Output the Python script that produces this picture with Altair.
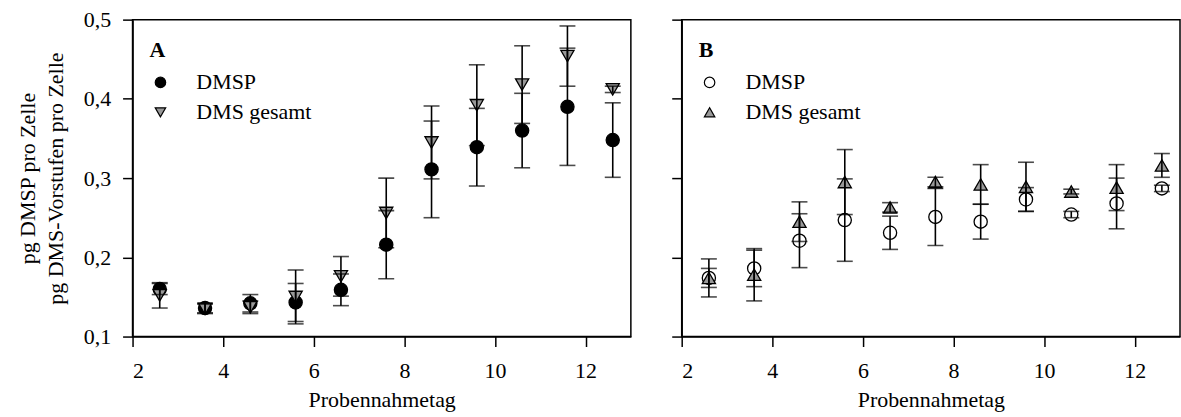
import altair as alt
import pandas as pd

# Sampling days
days = [2.6, 3.6, 4.6, 5.6, 6.6, 7.6, 8.6, 9.6, 10.6, 11.6, 12.6]

# Panel A
a_dmsp = [0.160, 0.136, 0.142, 0.143, 0.159, 0.216, 0.311, 0.339, 0.360, 0.390, 0.348]
a_dmsp_err = [0.007, 0.006, 0.011, 0.024, 0.020, 0.043, 0.061, 0.049, 0.047, 0.074, 0.047]
a_dms = [0.152, 0.135, 0.137, 0.150, 0.176, 0.256, 0.345, 0.392, 0.418, 0.454, 0.412]
a_dms_err = [0.016, 0.006, 0.008, 0.034, 0.025, 0.044, 0.046, 0.051, 0.049, 0.038, 0.004]

# Panel B
b_dmsp = [0.174, 0.186, 0.221, 0.247, 0.231, 0.251, 0.245, 0.273, 0.254, 0.268, 0.287]
b_dmsp_err = [0.012, 0.023, 0.034, 0.052, 0.021, 0.036, 0.022, 0.015, 0.004, 0.032, 0.004]
b_dms = [0.174, 0.178, 0.245, 0.295, 0.263, 0.295, 0.292, 0.289, 0.283, 0.288, 0.316]
b_dms_err = [0.024, 0.033, 0.025, 0.041, 0.006, 0.006, 0.025, 0.031, 0.003, 0.029, 0.015]

series_names = ["DMSP", "DMS gesamt"]
x_ticks = [2, 4, 6, 8, 10, 12]
y_ticks = [0.1, 0.2, 0.3, 0.4, 0.5]

FONT = "Liberation Serif"
FS = 22


def make_df(dmsp, dmsp_err, dms, dms_err):
    rows = []
    for d, v, e in zip(days, dmsp, dmsp_err):
        rows.append({"day": d, "series": series_names[0], "value": v, "lo": v - e, "hi": v + e})
    for d, v, e in zip(days, dms, dms_err):
        rows.append({"day": d, "series": series_names[1], "value": v, "lo": v - e, "hi": v + e})
    return pd.DataFrame(rows)


x_scale = alt.Scale(domain=[2, 13], nice=False, zero=False)
y_scale = alt.Scale(domain=[0.1, 0.5], nice=False, zero=False)
x_axis = alt.Axis(values=x_ticks, title="Probennahmetag", tickSize=10,
                  labelPadding=14, titlePadding=8, format="d")

y_axis_a = alt.Axis(values=y_ticks, title=["pg DMSP pro Zelle", "pg DMS-Vorstufen pro Zelle"],
                    tickSize=10, labelPadding=12, titlePadding=16, titleLineHeight=28,
                    labelExpr="replace(format(datum.value, '.1f'), '.', ',')")
y_axis_b = alt.Axis(values=y_ticks, title="", tickSize=10, labels=False)


def panel(df, shapes, fills, letter, y_axis):
    legend = alt.Legend(title=letter, orient="none", legendX=17, legendY=20,
                        titleFontWeight="bold", titleFont=FONT, titleFontSize=FS,
                        labelFont=FONT, labelFontSize=FS, symbolSize=110,
                        symbolStrokeWidth=1.2,
                        labelOffset=25, rowPadding=8, titlePadding=10, padding=0,
                        symbolOpacity=1)
    points = alt.Chart(df).mark_point(filled=True, size=175,
                                      strokeWidth=1.3, opacity=1).encode(
        x=alt.X("day:Q", scale=x_scale, axis=x_axis),
        y=alt.Y("value:Q", scale=y_scale, axis=y_axis),
        shape=alt.Shape("series:N", scale=alt.Scale(domain=series_names, range=shapes), legend=legend),
        fill=alt.Fill("series:N", scale=alt.Scale(domain=series_names, range=fills), legend=legend),
        stroke=alt.Stroke("series:N", scale=alt.Scale(domain=series_names, range=["black", "black"]),
                          legend=legend),
    )
    bars = alt.Chart(df).mark_errorbar(ticks=True, size=16, thickness=1.6, color="black").encode(
        x=alt.X("day:Q", scale=x_scale, axis=x_axis),
        y=alt.Y("lo:Q", scale=y_scale, axis=y_axis),
        y2="hi:Q",
    )
    return alt.layer(points, bars).properties(width=500, height=318)


panel_a = panel(make_df(a_dmsp, a_dmsp_err, a_dms, a_dms_err),
                ["circle", "triangle-down"], ["black", "#999999"], "A", y_axis_a)
panel_b = panel(make_df(b_dmsp, b_dmsp_err, b_dms, b_dms_err),
                ["circle", "triangle-up"], ["white", "#999999"], "B", y_axis_b)

chart = alt.hconcat(panel_a, panel_b, spacing=38).resolve_scale(
    shape="independent", fill="independent", stroke="independent"
).resolve_legend(shape="independent", fill="independent", stroke="independent").properties(
    padding={"left": 15, "top": 7, "right": 0, "bottom": 0},
    background="white",
).configure_view(stroke="black", strokeWidth=1.5).configure_axis(
    domainColor="black", tickColor="black", domainWidth=1.5, tickWidth=1.5,
    labelColor="black", titleColor="black", grid=False,
    labelFont=FONT, labelFontSize=FS, titleFont=FONT, titleFontSize=FS,
    titleFontWeight="normal",
)

chart.save("out.html", embed_options={"renderer": "svg", "actions": False})
